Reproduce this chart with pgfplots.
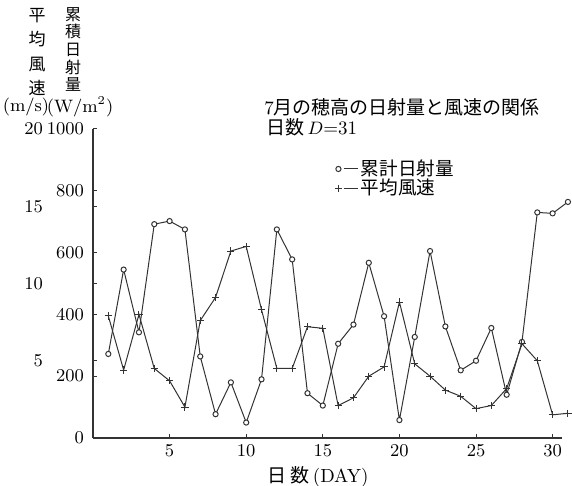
\documentclass[border=0pt]{standalone}
\usepackage{pgfplots}
\pgfplotsset{compat=1.18}
\usepackage{pgfplotstable}
\usepackage{fontspec}
\newfontfamily\cjk{Noto Sans CJK JP}
\definecolor{ink}{HTML}{333333}

\pgfplotstableread{
day rad
1 272
2 545
3 342
4 692
5 702
6 675
7 264
8 77
9 180
10 50
11 190
12 675
13 578
14 145
15 105
16 305
17 367
18 567
19 394
20 58
21 327
22 605
23 361
24 219
25 250
26 356
27 140
28 311
29 730
30 727
31 764
}\raddata

\pgfplotstableread{
day wind
1 7.9
2 4.4
3 8.0
4 4.5
5 3.7
6 2.0
7 7.6
8 9.1
9 12.1
10 12.4
11 8.3
12 4.5
13 4.5
14 7.2
15 7.1
16 2.1
17 2.6
18 4.0
19 4.6
20 8.8
21 4.8
22 4.0
23 3.1
24 2.7
25 1.9
26 2.1
27 3.2
28 6.1
29 5.0
30 1.5
31 1.6
}\winddata

\begin{document}
\begin{tikzpicture}
\useasboundingbox (0,0) rectangle (286pt,243pt);
\begin{axis}[
 at={(46.5pt,24pt)}, anchor=south west,
 scale only axis, width=234.4pt, height=154.5pt,
 xmin=0, xmax=30.6, ymin=0, ymax=1000,
 axis x line=bottom, axis y line=left,
 axis line style={-, ink, line width=0.6pt},
 xtick={5,10,...,30}, ytick={0,200,...,1000},
 /pgf/number format/1000 sep={},
 tick align=inside, major tick length=2pt,
 tick style={ink, line width=0.5pt},
 tick label style={font=\fontsize{8.8}{10}\selectfont},
 yticklabel style={xshift=-1pt},
 clip=false,
 legend style={draw=none, fill=none, at={(0.515,0.915)}, anchor=north west,
   font=\fontsize{9.3}{10}\selectfont\cjk, row sep=-3.5pt, inner sep=0pt,
   nodes={inner xsep=1pt}},
 legend cell align=left,
 legend image code/.code={
   \path[#1] plot coordinates {(0pt,0pt)};
   \draw[#1, mark=none] (2.6pt,0pt) -- (10pt,0pt);
 },
]
\addplot[ink, line width=0.5pt, mark=*, mark size=1.3pt, mark options={fill=white}] table[x=day,y=rad]{\raddata};
\addlegendentry{累計日射量}
\addlegendimage{ink, line width=0.5pt, mark=+, mark size=1.8pt}
\addlegendentry{平均風速}
\end{axis}
\begin{axis}[
 at={(46.5pt,24pt)}, anchor=south west,
 scale only axis, width=234.4pt, height=154.5pt,
 xmin=0, xmax=30.6, ymin=0, ymax=20,
 axis x line=none, axis y line=left,
 axis line style={-, ink, line width=0.6pt},
 ytick={5,10,15,20},
 tick align=inside, major tick length=2pt,
 tick style={ink, line width=0.5pt},
 tick label style={font=\fontsize{8.8}{10}\selectfont},
 yticklabel style={xshift=-21.5pt},
 clip=false,
]
\addplot[ink, line width=0.5pt, mark=+, mark size=1.8pt] table[x=day,y=wind]{\winddata};
\end{axis}
\begin{scope}[x=0.5pt,y=0.5pt]
\node[align=center, inner sep=0pt, anchor=north, font=\cjk\fontsize{8.5}{12.2}\selectfont] at (37,486-8) {平\\均\\風\\速};
\node[align=center, inner sep=0pt, anchor=north, font=\cjk\fontsize{8}{8.8}\selectfont] at (73,486-7) {累\\積\\日\\射\\量};
\node[inner sep=0pt, font=\fontsize{9}{10}\selectfont] at (26,486-107) {(m/s)};
\node[inner sep=0pt, font=\fontsize{9}{10}\selectfont] at (80,486-107) {(W/m$^2$)};
\node[inner sep=0pt, anchor=west, font=\fontsize{9.5}{11}\selectfont] at (264,486-107) {7{\cjk 月の穂高の日射量と風速の関係}};
\node[inner sep=0pt, anchor=west, font=\fontsize{9.5}{11}\selectfont] at (266,486-127) {{\cjk 日数}\,$D$=31};
\node[inner sep=0pt, font=\fontsize{9.5}{11}\selectfont] at (318,486-477) {{\cjk 日\ 数}\,(DAY)};
\end{scope}
\end{tikzpicture}
\end{document}
